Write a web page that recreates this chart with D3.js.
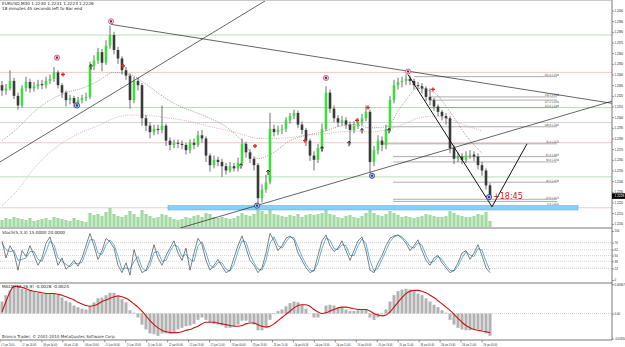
<!DOCTYPE html>
<html>
<head>
<meta charset="utf-8">
<script src="https://cdn.jsdelivr.net/npm/d3@7"></script>
<style>
  body { margin: 0; background: #fff; }
  svg { display: block; font-family: "DejaVu Sans", Arial, sans-serif; }
</style>
</head>
<body>
<script>
// ---- 資料 (EURUSD M30, 17-29 Jun 2010, 每根約合 3 根 M30) ----
const closes = [1.2325,1.2327,1.2334,1.2320,1.2311,1.2327,1.2333,1.2327,1.2329,1.2331,
 1.2330,1.2334,1.2336,1.2342,1.2330,1.2323,1.2316,1.2318,1.2313,1.2316,
 1.2318,1.2319,1.2348,1.2353,1.2361,1.2351,1.2367,1.2377,1.2363,1.2355,
 1.2344,1.2339,1.2316,1.2334,1.2330,1.2299,1.2292,1.2286,1.2289,1.2288,
 1.2292,1.2278,1.2274,1.2276,1.2275,1.2274,1.2269,1.2276,1.2274,1.2283,
 1.2280,1.2264,1.2255,1.2260,1.2258,1.2254,1.2250,1.2254,1.2252,1.2257,
 1.2275,1.2267,1.2261,1.2255,1.2224,1.2232,1.2239,1.2289,1.2286,1.2288,
 1.2289,1.2297,1.2301,1.2304,1.2293,1.2288,1.2278,1.2264,1.2260,1.2271,
 1.2289,1.2323,1.2308,1.2299,1.2295,1.2297,1.2293,1.2288,1.2292,1.2295,
 1.2299,1.2305,1.2258,1.2269,1.2278,1.2274,1.2289,1.2316,1.2330,1.2333,
 1.2334,1.2336,1.2334,1.2330,1.2329,1.2327,1.2319,1.2316,1.2310,1.2305,
 1.2301,1.2299,1.2271,1.2261,1.2263,1.2260,1.2264,1.2265,1.2263,1.2255,
 1.2250,1.2236,1.2226];
const firstOpen = 1.2330;
const highs = [1.2334,1.2331,1.2344,1.2337,1.2323,1.2330,1.2338,1.2336,1.2333,1.2335,
 1.2335,1.2338,1.2340,1.2347,1.2344,1.2332,1.2325,1.2321,1.2320,1.2319,
 1.2321,1.2323,1.2352,1.2358,1.2365,1.2364,1.2372,1.2386,1.2380,1.2366,
 1.2357,1.2347,1.2341,1.2338,1.2337,1.2332,1.2302,1.2295,1.2293,1.2293,
 1.2311,1.2294,1.2281,1.2279,1.2279,1.2278,1.2276,1.2279,1.2280,1.2287,
 1.2288,1.2282,1.2266,1.2264,1.2263,1.2261,1.2257,1.2258,1.2257,1.2262,
 1.2280,1.2277,1.2270,1.2263,1.2257,1.2237,1.2246,1.2304,1.2293,1.2292,
 1.2293,1.2300,1.2304,1.2307,1.2306,1.2296,1.2290,1.2280,1.2268,1.2275,
 1.2294,1.2329,1.2326,1.2311,1.2302,1.2301,1.2300,1.2296,1.2296,1.2299,
 1.2303,1.2311,1.2307,1.2273,1.2283,1.2282,1.2293,1.2320,1.2335,1.2337,
 1.2338,1.2340,1.2339,1.2336,1.2333,1.2332,1.2329,1.2327,1.2318,1.2312,
 1.2307,1.2304,1.2301,1.2274,1.2267,1.2266,1.2268,1.2269,1.2268,1.2266,
 1.2258,1.2252,1.2238];
const lows = [1.2320,1.2321,1.2325,1.2317,1.2307,1.2309,1.2324,1.2323,1.2324,1.2326,
 1.2326,1.2327,1.2331,1.2333,1.2327,1.2318,1.2310,1.2312,1.2309,1.2311,
 1.2313,1.2315,1.2317,1.2344,1.2350,1.2343,1.2349,1.2364,1.2359,1.2350,
 1.2340,1.2335,1.2308,1.2313,1.2325,1.2292,1.2287,1.2280,1.2283,1.2284,
 1.2285,1.2273,1.2269,1.2271,1.2271,1.2270,1.2265,1.2266,1.2270,1.2272,
 1.2276,1.2258,1.2249,1.2252,1.2254,1.2244,1.2246,1.2248,1.2249,1.2249,
 1.2255,1.2262,1.2257,1.2250,1.2216,1.2220,1.2229,1.2237,1.2282,1.2283,
 1.2284,1.2286,1.2294,1.2298,1.2290,1.2284,1.2273,1.2259,1.2250,1.2257,
 1.2268,1.2287,1.2304,1.2295,1.2291,1.2292,1.2289,1.2274,1.2285,1.2289,
 1.2292,1.2296,1.2248,1.2254,1.2265,1.2268,1.2270,1.2286,1.2313,1.2326,
 1.2328,1.2330,1.2330,1.2326,1.2325,1.2322,1.2315,1.2311,1.2306,1.2301,
 1.2297,1.2293,1.2266,1.2256,1.2258,1.2256,1.2257,1.2261,1.2259,1.2251,
 1.2245,1.2232,1.2222];
const volumes = [700,900,800,1000,900,800,700,900,600,700,800,
 900,700,1000,900,800,700,600,900,700,600,500,
 1400,1200,1300,1100,1500,1900,1300,1100,1000,1200,1600,
 1300,1000,1700,1300,1100,900,1000,1300,1200,1000,800,
 700,800,1000,900,1100,1200,1000,1400,1300,1000,900,
 1000,900,800,900,1100,1400,1200,1100,1300,2000,1600,
 1300,1900,1300,1200,1100,1000,1200,1100,1300,1000,1200,
 1300,1200,1300,1400,1800,1300,1200,1000,900,1100,1200,
 1000,900,1100,1400,1700,1400,1200,1100,1300,1600,1400,
 1200,1000,1100,1000,900,1000,1100,1300,1200,1100,1000,
 1000,1100,1600,1400,1200,1100,1000,1000,1100,1300,1200,1500,600];

// 均線 (每 4 根一點)
const maFast = [1.2278,1.2290,1.2305,1.2316,1.2323,1.2327,1.2334,1.2342,1.2340,1.2331,
 1.2320,1.2311,1.2305,1.2299,1.2291,1.2278,1.2261,1.2267,1.2278,1.2283,
 1.2286,1.2291,1.2293,1.2290,1.2291,1.2311,1.2327,1.2323,1.2305,1.2283,1.2266];
const maSlow = [1.2217,1.2232,1.2252,1.2267,1.2278,1.2286,1.2292,1.2299,1.2302,1.2302,
 1.2300,1.2298,1.2295,1.2291,1.2288,1.2284,1.2280,1.2280,1.2281,1.2283,
 1.2284,1.2286,1.2287,1.2286,1.2288,1.2293,1.2299,1.2301,1.2298,1.2292,1.2287];
const maStep = 4;

// Stochastic
const stochK = [80,45,70,55,20,60,48,70,50,30,
 45,75,88,60,30,45,22,30,40,28,
 45,70,95,70,42,60,85,78,65,30,
 15,35,10,62,35,15,20,40,72,45,
 30,50,65,80,55,40,65,20,55,85,
 72,40,20,30,42,28,15,20,45,70,
 90,65,40,30,15,25,55,95,80,60,
 70,85,90,82,55,40,25,15,20,50,
 80,92,70,58,65,80,60,40,60,80,
 88,60,20,15,35,50,70,85,90,92,
 85,75,60,70,82,60,40,30,45,50,
 35,25,15,20,35,55,60,42,55,72,
 50,25,15];
const stochD = [75,62,58,60,40,42,45,58,58,42,
 38,58,80,72,45,38,32,27,35,33,
 36,58,82,82,55,52,72,82,72,48,
 22,25,22,38,48,25,18,30,56,58,
 38,40,58,72,68,48,52,42,38,70,
 78,56,30,25,36,35,22,18,32,58,
 80,78,52,35,22,20,40,75,88,70,
 65,78,88,86,68,48,32,20,18,35,
 65,86,81,64,62,72,70,50,50,70,
 84,74,40,18,25,42,60,78,88,91,
 88,80,68,65,76,71,50,35,38,48,
 42,30,20,18,28,45,58,51,48,64,
 61,38,20];
const stochLevels = [23.6, 38.2, 50, 61.8, 76.4];

// MACD
const macdMain = [0.0015,0.0023,0.0029,0.0033,0.0033,0.0031,0.0030,0.0029,0.0028,0.0026,
 0.0025,0.0025,0.0025,0.0025,0.0023,0.0020,0.0016,0.0014,0.0010,0.0008,
 0.0006,0.0005,0.0009,0.0014,0.0019,0.0020,0.0023,0.0026,0.0026,0.0023,
 0.0018,0.0014,0.0004,0.0001,-0.0005,-0.0014,-0.0020,-0.0025,-0.0026,-0.0028,
 -0.0025,-0.0025,-0.0025,-0.0023,-0.0020,-0.0018,-0.0016,-0.0015,-0.0013,-0.0008,
 -0.0005,-0.0008,-0.0011,-0.0013,-0.0014,-0.0015,-0.0018,-0.0018,-0.0016,-0.0014,
 -0.0009,-0.0009,-0.0011,-0.0014,-0.0021,-0.0021,-0.0018,-0.0008,-0.0001,0.0003,
 0.0005,0.0009,0.0013,0.0015,0.0014,0.0011,0.0006,0.0000,-0.0005,-0.0005,
 0.0000,0.0010,0.0011,0.0010,0.0008,0.0008,0.0005,0.0003,0.0003,0.0004,
 0.0005,0.0005,-0.0005,-0.0008,-0.0005,-0.0001,0.0005,0.0015,0.0023,0.0028,
 0.0030,0.0031,0.0030,0.0028,0.0025,0.0023,0.0019,0.0015,0.0011,0.0008,
 0.0004,0.0001,-0.0008,-0.0014,-0.0018,-0.0020,-0.0021,-0.0021,-0.0020,-0.0020,
 -0.0021,-0.0025,-0.0028];
const macdSignal = [0.0002,0.0015,0.0027,0.0034,0.0034,0.0033,0.0031,0.0029,0.0028,0.0027,
 0.0026,0.0025,0.0025,0.0025,0.0024,0.0023,0.0021,0.0019,0.0017,0.0014,
 0.0012,0.0010,0.0009,0.0010,0.0012,0.0015,0.0017,0.0019,0.0021,0.0022,
 0.0021,0.0019,0.0016,0.0012,0.0008,0.0003,-0.0003,-0.0009,-0.0014,-0.0018,
 -0.0021,-0.0023,-0.0024,-0.0024,-0.0024,-0.0023,-0.0021,-0.0020,-0.0018,-0.0016,
 -0.0013,-0.0011,-0.0011,-0.0011,-0.0012,-0.0013,-0.0014,-0.0015,-0.0016,-0.0016,
 -0.0015,-0.0013,-0.0012,-0.0012,-0.0014,-0.0016,-0.0017,-0.0016,-0.0013,-0.0009,
 -0.0005,-0.0001,0.0003,0.0007,0.0010,0.0011,0.0011,0.0009,0.0005,0.0002,
 0.0000,0.0001,0.0003,0.0005,0.0007,0.0008,0.0008,0.0007,0.0006,0.0005,
 0.0005,0.0005,0.0003,0.0000,-0.0002,-0.0003,-0.0002,0.0002,0.0008,0.0014,
 0.0020,0.0025,0.0028,0.0029,0.0029,0.0028,0.0026,0.0023,0.0020,0.0016,
 0.0012,0.0008,0.0004,-0.0001,-0.0006,-0.0011,-0.0015,-0.0018,-0.0020,-0.0021,
 -0.0022,-0.0023,-0.0024];
const macdTicks = [0.00367, 0, -0.00314];

// 軸標籤
const priceTicks = [1.2200,1.2210,1.2220,1.2230,1.2240,1.2250,1.2260,1.2270,1.2280,1.2290,
 1.2300,1.2310,1.2320,1.2330,1.2340,1.2350,1.2360,1.2370,1.2380,1.2390,1.2400];
const timeLabels = ["17 Jun 2010","17 Jun 20:00","18 Jun 04:00","18 Jun 12:00","18 Jun 20:00",
 "21 Jun 05:00","21 Jun 13:00","21 Jun 21:00","22 Jun 05:00","22 Jun 13:00","22 Jun 21:00",
 "23 Jun 05:00","23 Jun 13:00","23 Jun 21:00","24 Jun 05:00","24 Jun 13:00","24 Jun 21:00",
 "25 Jun 05:00","25 Jun 13:00","25 Jun 21:00","28 Jun 05:00","28 Jun 13:00","28 Jun 21:00",
 "29 Jun 05:00"];

// 水平支撐壓力線
const pivotPrices = [1.2377, 1.2342, 1.2309, 1.2295, 1.2276, 1.2244, 1.2215];
const pivotKinds  = ["S", "R", "S", "P", "R", "S", "R"];

// Fibonacci
const fibPct    = ["161.8","138.2","127.2","123.6","100.0","76.4","61.8","50.0","38.2","23.6","0.0"];
const fibPrices = [1.2338,1.2319,1.2316,1.2309,1.2291,1.2275,1.2263,1.2258,1.2239,1.2223,1.2221];
const fibStart  = [103,107,107,107,96.5,95,97.75,97.75,97.75,97.75,97.75];
const fibEnd = 138.75;

// 趨勢線 [index, price]
const trendLines = [
  [[-0.5, 1.2258], [65.75, 1.2409]],
  [[27.25, 1.2387], [152.5, 1.2313]],
  [[44.5, 1.2196], [152.5, 1.2315]]
];
const zigzag = [[101.5, 1.2340], [122.5, 1.2216], [131.25, 1.2275]];
const supportZone = [41.5, 144, 1.2213, 1.2217];

// 標記
const swingHighs = [[13.75,1.2353],[27.25,1.2387],[81,1.2334],[101.5,1.2340]];
const swingLows  = [[18.75,1.2311],[63.75,1.2217],[92.5,1.2245],[121.75,1.2225]];
const sellArrows = [[15.25,1.2340],[30.25,1.2348],[63.25,1.2273],[75.75,1.2278],[88.75,1.2297],[91.5,1.2309],[107.75,1.2326]];
const buyArrows  = [[22.25,1.2347],[59.75,1.2254],[66.5,1.2248],[80,1.2270],[86.75,1.2275],[90,1.2287],[96.75,1.2287]];

// ---- 版面 ----
const W = 625, H = 347;
const axisX = 612;
const mainBottom = 228, stochBottom = 283, macdBottom = 340;

const svg = d3.select("body").append("svg")
    .attr("width", W)
    .attr("height", H);

// 比例尺
const x = d3.scaleLinear().domain([0, closes.length - 1]).range([2, 490]);
const y = d3.scaleLinear().domain([1.2197, 1.2408]).range([227, 2]);
const yVol = d3.scaleLinear().domain([0, 2400]).range([227, 203]);
const yStoch = d3.scaleLinear().domain([0, 100]).range([280, 231]);
const yMacd = d3.scaleLinear().domain([-0.0032, 0.0037]).range([339, 284]);
const xTime = d3.scaleLinear().domain([0, timeLabels.length - 1]).range([0, 482]);

// 小字: 水平壓縮
function tiny(parent, px, py, str, size, sx, anchor) {
    return parent.append("text")
        .attr("transform", `translate(${px},${py}) scale(${sx},1)`)
        .attr("text-anchor", anchor || "start")
        .style("font-size", size + "px")
        .style("fill", "#222")
        .text(str);
}

const defs = svg.append("defs");
function clip(id, top, bottom) {
    defs.append("clipPath").attr("id", id)
        .append("rect").attr("x", 0).attr("y", top)
        .attr("width", axisX).attr("height", bottom - top);
}
clip("clipMain", 0, mainBottom);
clip("clipStoch", mainBottom, stochBottom);
clip("clipMacd", stochBottom, macdBottom);

const main = svg.append("g").attr("clip-path", "url(#clipMain)");

// 水平線
const pivotColor = { S: "#b4e2b4", R: "#f2c8c8", P: "#d4d4d4" };
main.selectAll(".pivot")
    .data(pivotPrices)
    .enter()
    .append("line")
    .attr("x1", 0).attr("x2", axisX)
    .attr("y1", d => y(d)).attr("y2", d => y(d))
    .attr("stroke", (d, i) => pivotColor[pivotKinds[i]])
    .attr("stroke-width", 1);

// Fibonacci 線
const fibs = fibPrices.map((p, i) => ({
    p: p, pct: fibPct[i], from: fibStart[i],
    below: i > 0 && Math.abs(fibPrices[i - 1] - p) < 0.00031
}));
main.selectAll(".fib")
    .data(fibs)
    .enter()
    .append("line")
    .attr("x1", d => x(d.from)).attr("x2", x(fibEnd))
    .attr("y1", d => y(d.p)).attr("y2", d => y(d.p))
    .attr("stroke", "#8a8a8a")
    .attr("stroke-width", 0.7);
const fibText = svg.append("g");
fibs.forEach(d => {
    tiny(fibText, x(fibEnd) + 2, d.below ? y(d.p) + 3.2 : y(d.p) - 0.7,
         `${d.pct} ${d.p.toFixed(4)}`, 3, 0.72, "end").style("fill", "#333");
});

// 均線
const maLine = d3.line().x((d, i) => x(i * maStep)).y(d => y(d)).curve(d3.curveMonotoneX);
main.append("path")
    .attr("d", maLine(maSlow))
    .attr("fill", "none")
    .attr("stroke", "#d99a9a")
    .attr("stroke-width", 0.8)
    .attr("stroke-dasharray", "1,1.2");
main.append("path")
    .attr("d", maLine(maFast))
    .attr("fill", "none")
    .attr("stroke", "#9c7f7f")
    .attr("stroke-width", 0.8)
    .attr("stroke-dasharray", "1,1.2");

// 成交量
main.selectAll(".vol")
    .data(volumes)
    .enter()
    .append("rect")
    .attr("x", (d, i) => x(i) - 1.6)
    .attr("width", 3.2)
    .attr("y", d => yVol(d))
    .attr("height", d => yVol(0) - yVol(d))
    .attr("fill", "#a3d9a3");

// 藍色支撐區
main.append("rect")
    .attr("x", x(supportZone[0]))
    .attr("width", x(supportZone[1]) - x(supportZone[0]))
    .attr("y", y(supportZone[3]))
    .attr("height", y(supportZone[2]) - y(supportZone[3]))
    .attr("fill", "#8ccff2")
    .attr("stroke", "#5aaee0")
    .attr("stroke-width", 0.6);

// K 線
const bars = closes.map((c, i) => ({
    i: i, o: i === 0 ? firstOpen : closes[i - 1], c: c, h: highs[i], l: lows[i]
}));
const candle = main.selectAll(".candle")
    .data(bars)
    .enter()
    .append("g");
candle.append("line")
    .attr("x1", d => x(d.i)).attr("x2", d => x(d.i))
    .attr("y1", d => y(d.h)).attr("y2", d => y(d.l))
    .attr("stroke", "#4a4a4a")
    .attr("stroke-width", 0.8);
candle.append("rect")
    .attr("x", d => x(d.i) - 1.3)
    .attr("width", 2.6)
    .attr("y", d => y(Math.max(d.o, d.c)))
    .attr("height", d => Math.max(0.8, Math.abs(y(d.o) - y(d.c))))
    .attr("fill", d => d.c >= d.o ? "#3fdc3f" : "#3a3a3a");

// 趨勢線
const pt = d3.line().x(d => x(d[0])).y(d => y(d[1]));
main.selectAll(".trend")
    .data(trendLines)
    .enter()
    .append("path")
    .attr("d", d => pt(d))
    .attr("stroke", "#222")
    .attr("stroke-width", 0.7)
    .attr("fill", "none");
main.append("path")
    .attr("d", pt(zigzag))
    .attr("stroke", "#111")
    .attr("stroke-width", 1)
    .attr("fill", "none");

// 標記
main.selectAll(".hi")
    .data(swingHighs)
    .enter()
    .append("circle")
    .attr("cx", d => x(d[0])).attr("cy", d => y(d[1]) - 3)
    .attr("r", 2.6)
    .attr("fill", "#f6c6d6")
    .attr("stroke", "#d0507a")
    .attr("stroke-width", 0.8);
main.selectAll(".hiDot")
    .data(swingHighs)
    .enter()
    .append("circle")
    .attr("cx", d => x(d[0])).attr("cy", d => y(d[1]) - 3)
    .attr("r", 1.1)
    .attr("fill", "#2c2c80");
main.selectAll(".lo")
    .data(swingLows)
    .enter()
    .append("circle")
    .attr("cx", d => x(d[0])).attr("cy", d => y(d[1]))
    .attr("r", 2.6)
    .attr("fill", "#a9c6f0")
    .attr("stroke", "#2c3c80")
    .attr("stroke-width", 0.8);
main.selectAll(".loDot")
    .data(swingLows)
    .enter()
    .append("circle")
    .attr("cx", d => x(d[0])).attr("cy", d => y(d[1]))
    .attr("r", 1.1)
    .attr("fill", "#2c2c80");
main.selectAll(".sell")
    .data(sellArrows)
    .enter()
    .append("path")
    .attr("transform", d => `translate(${x(d[0])},${y(d[1])})`)
    .attr("d", d3.symbol(d3.symbolCross, 9))
    .attr("fill", "#e02424");
main.selectAll(".buy")
    .data(buyArrows)
    .enter()
    .append("path")
    .attr("transform", d => `translate(${x(d[0])},${y(d[1])})`)
    .attr("d", "M0,2.5 L0,-2.5 M-1.8,-0.8 L0,-2.5 L1.8,-0.8")
    .attr("stroke", "#111")
    .attr("stroke-width", 0.9)
    .attr("fill", "none");

// 倒數時間
main.append("text")
    .attr("x", x(closes.length - 1) + 3)
    .attr("y", y(closes[closes.length - 1]) + 3)
    .style("font-size", "8px")
    .style("fill", "#cc2222")
    .text("+18:45");

// 標題
svg.append("text").attr("x", 2).attr("y", 5)
    .style("font-size", "4.2px").style("fill", "#222")
    .text("EURUSD,M30  1.2230 1.2231 1.2223 1.2226");
svg.append("text").attr("x", 2).attr("y", 10)
    .style("font-size", "4.2px").style("fill", "#222")
    .text("18 minutes 45 seconds left to Bar end");

// ---- Stochastic ----
const stoch = svg.append("g").attr("clip-path", "url(#clipStoch)");
stoch.selectAll(".lvl")
    .data(stochLevels)
    .enter()
    .append("line")
    .attr("x1", 0).attr("x2", axisX)
    .attr("y1", d => yStoch(d)).attr("y2", d => yStoch(d))
    .attr("stroke", "#b8b8b8")
    .attr("stroke-width", 0.6)
    .attr("stroke-dasharray", "1,1");
const sLine = d3.line().x((d, i) => x(i)).y(d => yStoch(d));
stoch.append("path")
    .attr("d", sLine(stochD))
    .attr("fill", "none")
    .attr("stroke", "#5fb2d6")
    .attr("stroke-width", 1);
stoch.append("path")
    .attr("d", sLine(stochK))
    .attr("fill", "none")
    .attr("stroke", "#4a4a4a")
    .attr("stroke-width", 0.7);
svg.append("text").attr("x", 2).attr("y", 233.5)
    .style("font-size", "4.2px").style("fill", "#222")
    .text("Stoch(5,3,3) 15.0000 20.0000");

// ---- MACD ----
const macd = svg.append("g").attr("clip-path", "url(#clipMacd)");
macd.append("line")
    .attr("x1", 0).attr("x2", axisX)
    .attr("y1", yMacd(0)).attr("y2", yMacd(0))
    .attr("stroke", "#b8b8b8")
    .attr("stroke-width", 0.6)
    .attr("stroke-dasharray", "1,1");
macd.selectAll(".hist")
    .data(macdMain)
    .enter()
    .append("rect")
    .attr("x", (d, i) => x(i) - 1.5)
    .attr("width", 3)
    .attr("y", d => yMacd(Math.max(0, d)))
    .attr("height", d => Math.abs(yMacd(d) - yMacd(0)))
    .attr("fill", "#b2b2b2");
macd.append("path")
    .attr("d", d3.line().x((d, i) => x(i)).y(d => yMacd(d)).curve(d3.curveMonotoneX)(macdSignal))
    .attr("fill", "none")
    .attr("stroke", "#cc1111")
    .attr("stroke-width", 1.1);
svg.append("text").attr("x", 2).attr("y", 288)
    .style("font-size", "4.2px").style("fill", "#222")
    .text("MACD(12,26,9) -0.0028 -0.0024");

// ---- 框線與座標軸 ----
const frame = svg.append("g").attr("stroke", "#555").attr("stroke-width", 0.8);
frame.append("line").attr("x1", axisX).attr("x2", axisX).attr("y1", 0).attr("y2", macdBottom);
[mainBottom, stochBottom, macdBottom].forEach(v =>
    frame.append("line").attr("x1", 0).attr("x2", axisX).attr("y1", v).attr("y2", v));
frame.append("line").attr("x1", 0).attr("x2", axisX).attr("y1", 0.5).attr("y2", 0.5)
    .attr("stroke", "#bbb");

// 右側刻度 (刻度線由 d3.axisRight, 文字另外壓縮)
function rightAxis(scale, ticks, fmt) {
    const g = svg.append("g")
        .attr("transform", `translate(${axisX},0)`)
        .call(d3.axisRight(scale).tickValues(ticks).tickSize(2).tickFormat(""));
    g.select(".domain").remove();
    g.selectAll("line").attr("stroke", "#555").attr("stroke-width", 0.6);
    ticks.forEach(t => tiny(g, 2.6, scale(t) + 1.4, fmt(t), 4, 0.7));
    return g;
}
rightAxis(y, priceTicks, d3.format(".4f"));
rightAxis(yStoch, [0, ...stochLevels, 100], d3.format(".0f"));
rightAxis(yMacd, macdTicks, d => d === 0 ? "0.00" : d.toFixed(5));

// 目前價格標籤
const last = closes[closes.length - 1];
svg.append("rect")
    .attr("x", axisX).attr("y", y(last) - 2.8)
    .attr("width", W - axisX).attr("height", 5.6)
    .attr("fill", "#000");
tiny(svg, axisX + 2.6, y(last) + 1.4, last.toFixed(4), 4, 0.7).style("fill", "#fff");

// 時間軸
const tAxis = svg.append("g");
tAxis.selectAll("line")
    .data(timeLabels)
    .enter()
    .append("line")
    .attr("x1", (d, i) => xTime(i)).attr("x2", (d, i) => xTime(i))
    .attr("y1", macdBottom).attr("y2", macdBottom + 2.5)
    .attr("stroke", "#555").attr("stroke-width", 0.6);
timeLabels.forEach((d, i) => tiny(tAxis, xTime(i) + 1, 345.5, d, 3.6, 0.62));

svg.append("text").attr("x", 2).attr("y", 338)
    .style("font-size", "4px").style("fill", "#333")
    .text("Bronco Trader, © 2001-2010 MetaQuotes Software Corp.");
</script>
</body>
</html>
